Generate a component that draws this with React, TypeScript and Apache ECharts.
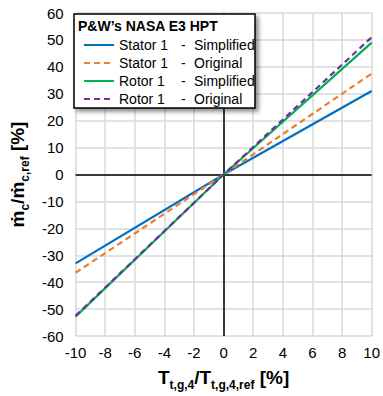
import React, { useEffect, useRef } from "react";
import * as echarts from "echarts";

const xValues = [-10, 0, 10];
const statorSimplified = [-33, 0, 31];
const statorOriginal = [-36.5, 0, 37.5];
const rotorSimplified = [-52.8, 0, 49];
const rotorOriginal = [-52.5, 0, 51];

const seriesNames = [
  "Stator 1 - Simplified",
  "Stator 1 - Original",
  "Rotor 1 - Simplified",
  "Rotor 1 - Original",
];
const seriesColors = ["#0070C0", "#ED7D31", "#00B050", "#7030A0"];
const seriesDashed = [false, true, false, true];
const seriesValues = [statorSimplified, statorOriginal, rotorSimplified, rotorOriginal];
const legendTitle = "P&W\u2019s NASA E3 HPT";

const FONT = "Liberation Sans, Arial, sans-serif";

export default function App() {
  const ref = useRef<HTMLDivElement>(null);
  useEffect(() => {
    if (!ref.current) return;
    const chart = echarts.init(ref.current, null, { renderer: "svg" });
    const series: any[] = seriesNames.map((name, i) => ({
      name,
      type: "line",
      symbol: "none",
      data: xValues.map((x, j) => [x, seriesValues[i][j]]),
      lineStyle: {
        color: seriesColors[i],
        width: 2.2,
        type: seriesDashed[i] ? [6, 4] : "solid",
      },
      itemStyle: { color: seriesColors[i] },
      z: 2 + i,
    }));
    series[0].markLine = {
      silent: true,
      symbol: "none",
      label: { show: false },
      lineStyle: { color: "#000", width: 1.5, type: "solid" },
      data: [{ xAxis: 0 }, { yAxis: 0 }],
      z: 1,
    };
    const nameRich = {
      b: { fontSize: 19, fontWeight: "bold", fontFamily: FONT, color: "#000", verticalAlign: "bottom", lineHeight: 22 },
      s: { fontSize: 12, fontWeight: "bold", fontFamily: FONT, color: "#000", verticalAlign: "bottom", lineHeight: 16, padding: [0, 0, -4, 0] },
    };
    chart.setOption({
      animation: false,
      grid: { left: 70, right: 7, top: 13, bottom: 59 },
      xAxis: {
        type: "value",
        min: -10,
        max: 10,
        interval: 2,
        axisLine: { show: false },
        axisTick: { show: false },
        splitLine: { show: true, lineStyle: { color: "#D9D9D9", width: 1.5 } },
        axisLabel: { color: "#000", fontSize: 15, fontFamily: FONT, margin: 9 },
        name: "{b|T}{s|t,g,4}{b|/T}{s|t,g,4,ref}{b| [%]}",
        nameLocation: "middle",
        nameGap: 29,
        nameTextStyle: { rich: nameRich },
      },
      yAxis: {
        type: "value",
        min: -60,
        max: 60,
        interval: 10,
        axisLine: { show: false },
        axisTick: { show: false },
        splitLine: { show: true, lineStyle: { color: "#D9D9D9", width: 1.5 } },
        axisLabel: { color: "#000", fontSize: 15, fontFamily: FONT, margin: 12 },
        name: "{b|\u1E41}{s|c}{b|/\u1E41}{s|c,ref}{b| [%]}",
        nameLocation: "middle",
        nameGap: 40,
        nameTextStyle: { rich: nameRich },
      },
      legend: {
        orient: "vertical",
        left: 78,
        top: 33,
        itemWidth: 30,
        itemHeight: 14,
        itemGap: 4,
        z: 10,
        selectedMode: false,
        itemStyle: { opacity: 0 },
        data: seriesNames,
        formatter: (name: string) => {
          const parts = name.split(" - ");
          return `{a|${parts[0]}}{b|-}{c|${parts[1]}}`;
        },
        textStyle: {
          color: "#000",
          fontSize: 14,
          fontFamily: FONT,
          rich: {
            a: { width: 62, fontSize: 14, fontFamily: FONT, color: "#000" },
            b: { width: 13, fontSize: 14, fontFamily: FONT, color: "#000" },
            c: { fontSize: 14, fontFamily: FONT, color: "#000" },
          },
        },
      },
      graphic: [
        {
          type: "rect",
          z: 8,
          shape: { x: 74, y: 14, width: 181, height: 94 },
          style: {
            fill: "#fff",
            stroke: "#000",
            lineWidth: 1.5,
            shadowBlur: 4,
            shadowOffsetX: 3,
            shadowOffsetY: 3,
            shadowColor: "rgba(0,0,0,0.45)",
          },
        },
        {
          type: "text",
          z: 9,
          x: 78,
          y: 26,
          style: {
            text: legendTitle,
            font: `bold 14px ${FONT}`,
            fill: "#000",
            verticalAlign: "middle",
          },
        },
      ],
      series,
    });
    return () => chart.dispose();
  }, []);
  return <div ref={ref} style={{ width: 383, height: 396, position: "absolute", left: 0, top: 0 }} />;
}
